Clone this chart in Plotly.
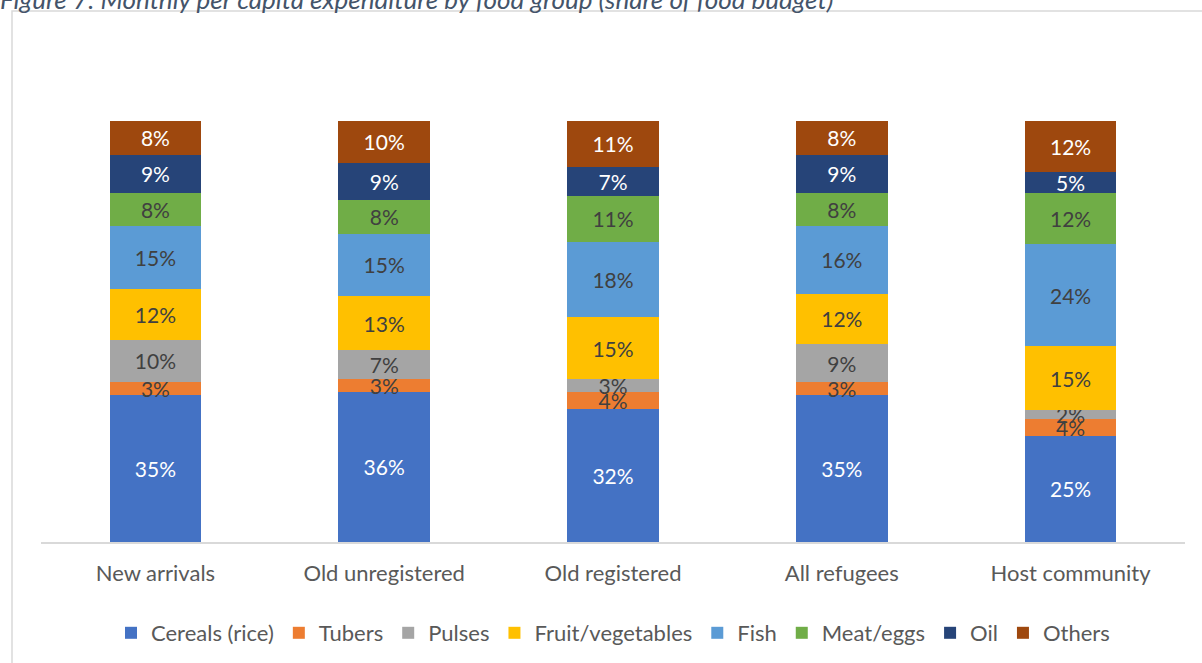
import plotly.graph_objects as go

categories = ["New arrivals", "Old unregistered", "Old registered", "All refugees", "Host community"]
series_names = ["Cereals (rice)", "Tubers", "Pulses", "Fruit/vegetables", "Fish", "Meat/eggs", "Oil", "Others"]
cereals = [35, 36, 32, 35, 25]
tubers = [3, 3, 4, 3, 4]
pulses = [10, 7, 3, 9, 2]
fruit_veg = [12, 13, 15, 12, 15]
fish = [15, 15, 18, 16, 24]
meat_eggs = [8, 8, 11, 8, 12]
oil = [9, 9, 7, 9, 5]
others = [8, 10, 11, 8, 12]

series_values = [cereals, tubers, pulses, fruit_veg, fish, meat_eggs, oil, others]
colors = ["#4472C4", "#ED7D31", "#A5A5A5", "#FFC000", "#5B9BD5", "#70AD47", "#264478", "#9E480E"]
label_colors = ["#FFFFFF", "#404040", "#404040", "#404040", "#404040", "#404040", "#FFFFFF", "#FFFFFF"]

FONT = "Lato"
W, H = 1202, 663
ML, MR, MT, MB = 41, 17, 121, 121
PW, PH = W - ML - MR, H - MT - MB

fig = go.Figure()
for name, vals, col, lc in zip(series_names, series_values, colors, label_colors):
    fig.add_trace(go.Bar(
        x=categories, y=vals, name=name,
        marker=dict(color=col, line=dict(width=0)),
        text=[f"{v}%" for v in vals],
        textposition="inside", insidetextanchor="middle", textangle=0,
        insidetextfont=dict(family=FONT, size=21, color=lc),
        hoverinfo="skip",
    ))

fig.update_layout(
    barmode="stack", barnorm="percent", bargap=0.6,
    width=W, height=H,
    margin=dict(l=ML, r=MR, t=MT, b=MB, autoexpand=False),
    plot_bgcolor="white", paper_bgcolor="white",
    uniformtext=dict(mode="show", minsize=21),
    font=dict(family=FONT, size=22, color="#595959"),
    xaxis=dict(showline=True, linecolor="#D9D9D9", linewidth=1.5,
               ticks="outside", ticklen=11, tickcolor="rgba(0,0,0,0)",
               tickfont=dict(family=FONT, size=22, color="#595959"), fixedrange=True),
    yaxis=dict(visible=False, range=[0, 100], showgrid=False, fixedrange=True),
    legend=dict(orientation="h", x=0.5, xanchor="center", y=-(633 - 542) / PH, yanchor="middle",
                font=dict(family=FONT, size=22, color="#595959"), itemwidth=30,
                traceorder="normal"),
    showlegend=True,
)

fig.add_shape(type="rect", xref="paper", yref="paper",
              x0=(12 - ML) / PW, x1=1.05, y0=-0.35, y1=(542 - 11) / PH,
              line=dict(color="#D9D9D9", width=1.5), fillcolor="rgba(0,0,0,0)", layer="below")

fig.add_annotation(text="Figure 7: Monthly per capita expenditure by food group (share of food budget)",
                   xref="paper", yref="paper", x=(-2 - ML) / PW, y=(542 + 1) / PH,
                   xanchor="left", yanchor="middle", showarrow=False,
                   font=dict(family=FONT, size=26, color="#44546A", style="italic"))

fig.write_html("out.html", config={"displayModeBar": False},
               post_script="document.body.style.margin='0';document.body.style.overflow='hidden';")
